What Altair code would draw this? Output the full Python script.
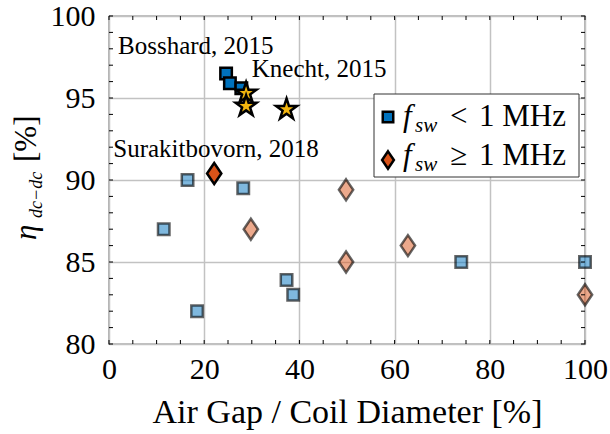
import altair as alt
import pandas as pd

# ---------------- data ----------------
lo_sq_x = [11.5, 16.5, 18.5, 28.2, 37.3, 38.7, 74.0, 100.0]
lo_sq_y = [87.0, 90.0, 82.0, 89.5, 83.9, 83.0, 85.0, 85.0]
hi_sq_x = [24.6, 25.4, 27.8]
hi_sq_y = [96.5, 95.9, 95.6]
star_x = [28.8, 28.8, 37.3]
star_y = [95.3, 94.5, 94.3]
lo_di_x = [29.8, 49.8, 49.8, 62.8, 100.0]
lo_di_y = [87.0, 89.4, 85.0, 86.0, 83.0]
hi_di_x = [22.1]
hi_di_y = [90.4]
ann_text = ["Bosshard, 2015", "Knecht, 2015", "Surakitbovorn, 2018"]
ann_x = [1.9, 30.0, 0.9]
ann_y = [97.7, 96.3, 91.4]
x_major = [0, 20, 40, 60, 80, 100]
y_major = [80, 85, 90, 95, 100]
x_minor = list(range(0, 101, 5))
y_minor = list(range(80, 101, 1))

W, H = 476, 328
SERIF = "Liberation Serif"
BLUE, ORANGE, GOLD = "#0072BD", "#D95319", "#F2B50F"
SQUARE = "M-1,-1L1,-1L1,1L-1,1Z"
DIAMOND = "M0,-1L0.68,0L0,1L-0.68,0Z"
STAR = ("M0,-1L0.2245,-0.309L0.951,-0.309L0.363,0.118L0.588,0.809L0,0.382"
        "L-0.588,0.809L-0.363,0.118L-0.951,-0.309L-0.2245,-0.309Z")

xs = alt.Scale(domain=[0, 100], nice=False, zero=False)
ys = alt.Scale(domain=[80, 100], nice=False, zero=False)


def pts(x, y):
    return pd.DataFrame({"x": x, "y": y})


X = alt.X("x:Q", scale=xs,
          axis=alt.Axis(values=x_major, title="Air Gap / Coil Diameter [%]",
                        grid=True, ticks=False, domain=False,
                        labelFont=SERIF, labelFontSize=30, labelColor="black",
                        labelPadding=10, labelFlush=False,
                        titleFont=SERIF, titleFontSize=34, titleFontWeight="normal",
                        titleColor="black", titlePadding=11,
                        gridColor="#c2c2c2", gridWidth=1.5))
Y = alt.Y("y:Q", scale=ys,
          axis=alt.Axis(values=y_major, title="", grid=True, ticks=False,
                        domain=False, labelFont=SERIF, labelFontSize=30,
                        labelColor="black", labelPadding=14, labelFlush=False,
                        gridColor="#c2c2c2", gridWidth=1.5))

base = alt.Chart(pts(lo_sq_x, lo_sq_y)).mark_point(
    shape=SQUARE, filled=True, size=132, fill=BLUE, fillOpacity=0.5,
    stroke="black", strokeOpacity=0.6, strokeWidth=2.5, opacity=1
).encode(x=X, y=Y)

lo_di = alt.Chart(pts(lo_di_x, lo_di_y)).mark_point(
    shape=DIAMOND, filled=True, size=441, fill=ORANGE, fillOpacity=0.5,
    stroke="black", strokeOpacity=0.6, strokeWidth=2.5, opacity=1
).encode(x="x:Q", y="y:Q")

hi_sq = alt.Chart(pts(hi_sq_x, hi_sq_y)).mark_point(
    shape=SQUARE, filled=True, size=132, fill=BLUE, stroke="black",
    strokeWidth=2.5, opacity=1
).encode(x="x:Q", y="y:Q")

stars = alt.Chart(pts(star_x, star_y)).mark_point(
    shape=STAR, filled=True, size=484, fill=GOLD, stroke="black",
    strokeWidth=2.5, opacity=1
).encode(x="x:Q", y="y:Q")

hi_di = alt.Chart(pts(hi_di_x, hi_di_y)).mark_point(
    shape=DIAMOND, filled=True, size=441, fill=ORANGE, stroke="black",
    strokeWidth=2.5, opacity=1
).encode(x="x:Q", y="y:Q")

ann = alt.Chart(pd.DataFrame({"x": ann_x, "y": ann_y, "t": ann_text})).mark_text(
    font=SERIF, fontSize=25, align="left", baseline="alphabetic", color="black"
).encode(x="x:Q", y="y:Q", text="t:N")

# inward ticks on all four sides
tk = dict(color="black", strokeWidth=1)
xt_b = alt.Chart(pd.DataFrame({"x": x_minor})).mark_rule(**tk).encode(
    x="x:Q", y=alt.value(H), y2=alt.value(H - 4))
xt_t = alt.Chart(pd.DataFrame({"x": x_minor})).mark_rule(**tk).encode(
    x="x:Q", y=alt.value(0), y2=alt.value(4))
yt_l = alt.Chart(pd.DataFrame({"y": y_minor})).mark_rule(**tk).encode(
    y="y:Q", x=alt.value(0), x2=alt.value(4))
yt_r = alt.Chart(pd.DataFrame({"y": y_minor})).mark_rule(**tk).encode(
    y="y:Q", x=alt.value(W), x2=alt.value(W - 4))

# y-axis title: eta_{dc-dc} [%] (rotated)
one = pd.DataFrame({"k": [0]})
yt_eta = alt.Chart(one).mark_text(
    text="η", font=SERIF, fontSize=31, fontStyle="italic", angle=270,
    align="left", baseline="alphabetic", color="black"
).encode(x=alt.value(-73), y=alt.value(224))
yt_sub = alt.Chart(one).mark_text(
    text="dc−dc", font=SERIF, fontSize=18, fontStyle="italic", angle=270,
    align="left", baseline="alphabetic", color="black"
).encode(x=alt.value(-67), y=alt.value(202))
yt_pct = alt.Chart(one).mark_text(
    text="[%]", font=SERIF, fontSize=31, angle=270,
    align="left", baseline="alphabetic", color="black"
).encode(x=alt.value(-73), y=alt.value(146))

# legend
LX0, LX1, LY0, LY1 = 265, 470, 78, 161
leg_box = alt.Chart(one).mark_rect(fill="white", stroke="#333333", strokeWidth=1).encode(
    x=alt.value(LX0), x2=alt.value(LX1), y=alt.value(LY0), y2=alt.value(LY1))
leg_sq = alt.Chart(one).mark_point(
    shape=SQUARE, filled=True, size=110, fill=BLUE, stroke="black",
    strokeWidth=2.5, opacity=1).encode(x=alt.value(279), y=alt.value(101))
leg_di = alt.Chart(one).mark_point(
    shape=DIAMOND, filled=True, size=300, fill=ORANGE, stroke="black",
    strokeWidth=2.5, opacity=1).encode(x=alt.value(279), y=alt.value(144))


def txt(s, x, y, size, italic=False):
    kw = dict(text=s, font=SERIF, fontSize=size, align="left",
              baseline="alphabetic", color="black")
    if italic:
        kw["fontStyle"] = "italic"
    return alt.Chart(one).mark_text(**kw).encode(x=alt.value(x), y=alt.value(y))


leg_txt = [
    txt("f", 294, 110, 31, True), txt("sw", 306, 116, 21, True),
    txt("<", 341, 110, 31), txt("1 MHz", 370, 110, 31),
    txt("f", 294, 149, 31, True), txt("sw", 306, 155, 21, True),
    txt("≥", 341, 149, 31), txt("1 MHz", 370, 149, 31),
]

chart = alt.layer(
    base, lo_di, hi_sq, stars, hi_di, ann,
    xt_b, xt_t, yt_l, yt_r,
    yt_eta, yt_sub, yt_pct,
    leg_box, leg_sq, leg_di, *leg_txt
).properties(
    width=W, height=H,
    autosize=alt.AutoSizeParams(type="none"),
    padding={"left": 109, "top": 16, "right": 25, "bottom": 90},
    background="white",
).configure_view(stroke="black", strokeWidth=1.2)

chart.save("out.html", embed_options={"renderer": "svg", "actions": False})
